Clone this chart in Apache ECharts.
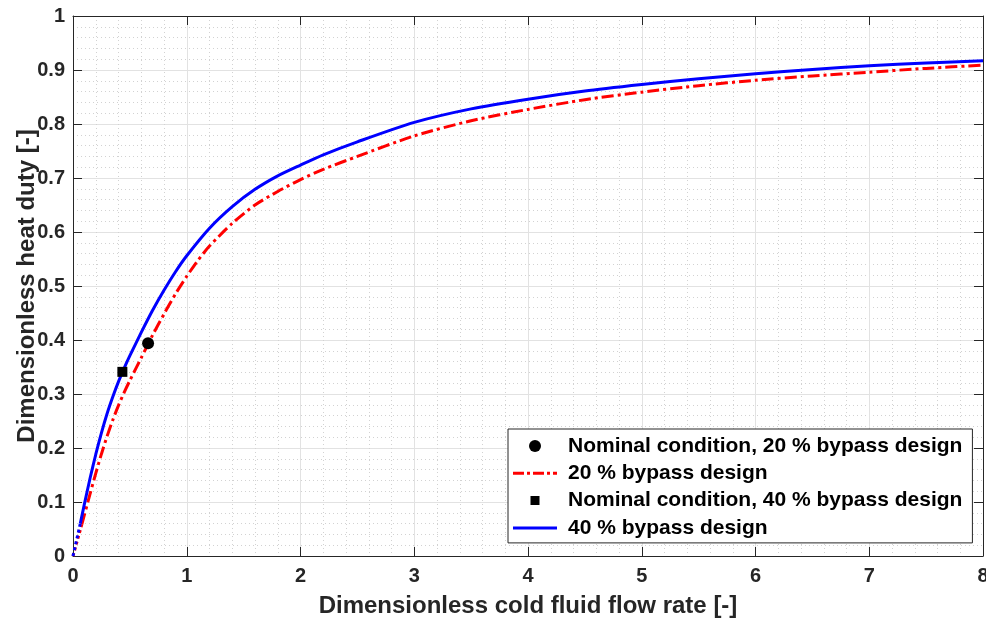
<!DOCTYPE html>
<html>
<head>
<meta charset="utf-8">
<script src="https://cdn.jsdelivr.net/npm/echarts@6/dist/echarts.min.js"></script>
<style>
  html, body { margin: 0; padding: 0; background: #ffffff; }
  #chart { width: 986px; height: 618px; }
</style>
</head>
<body>
<div id="chart"></div>
<script>
// Dimensionless cold fluid flow rate (x) and dimensionless heat duty (y)
// for the 40 % bypass design; the first segment (from the origin) is dotted.
const flow40 = [0, 0.064, 0.1, 0.15, 0.2, 0.25, 0.3, 0.35, 0.4, 0.45, 0.5, 0.6, 0.7, 0.8, 0.9, 1.0,
  1.2, 1.4, 1.6, 1.8, 2.0, 2.2, 2.5, 3.0, 3.5, 4.0, 4.5, 5.0, 5.5, 6.0, 6.5, 7.0, 7.5, 8.0];
const duty40 = [0, 0.060, 0.096, 0.144, 0.188, 0.228, 0.264, 0.295, 0.323, 0.348, 0.371, 0.414, 0.455, 0.492, 0.526, 0.556,
  0.607, 0.647, 0.679, 0.704, 0.724, 0.743, 0.767, 0.803, 0.828, 0.846, 0.861, 0.873, 0.884, 0.893, 0.901, 0.908, 0.913, 0.917];

// Same quantities for the 20 % bypass design.
const flow20 = [0, 0.077, 0.1, 0.15, 0.2, 0.25, 0.3, 0.35, 0.4, 0.45, 0.5, 0.6, 0.7, 0.8, 0.9, 1.0,
  1.1, 1.2, 1.4, 1.6, 1.8, 2.0, 2.2, 2.5, 3.0, 3.5, 4.0, 4.5, 5.0, 5.5, 6.0, 6.5, 7.0, 7.5, 8.0];
const duty20 = [0, 0.058, 0.076, 0.115, 0.153, 0.189, 0.222, 0.252, 0.279, 0.303, 0.325, 0.367, 0.409, 0.448, 0.485, 0.518,
  0.548, 0.574, 0.616, 0.650, 0.675, 0.697, 0.716, 0.740, 0.778, 0.806, 0.827, 0.845, 0.859, 0.871, 0.881, 0.889, 0.896, 0.903, 0.909];

// Nominal operating points [flow, duty]
const nominal20 = [0.66, 0.394];
const nominal40 = [0.434, 0.341];

// Axis tick labels
const xTickLabels = ['0', '1', '2', '3', '4', '5', '6', '7', '8'];
const yTickLabels = ['0', '0.1', '0.2', '0.3', '0.4', '0.5', '0.6', '0.7', '0.8', '0.9', '1'];

const seriesNames = [
  'Nominal condition, 20 % bypass design',
  '20 % bypass design',
  'Nominal condition, 40 % bypass design',
  '40 % bypass design'
];

const pairs = (xs, ys, from, to) => xs.slice(from, to).map((x, i) => [x, ys[from + i]]);

const FONT = 'Liberation Sans, Arial, Helvetica, sans-serif';
const INK = '#262626';

// Legend glyphs, drawn in a 50 x 13 box (the trailing moves only set the box extent).
const ICON_BOX = ' M0,0 M50,13';
const legendIcons = {
  circle: 'path://M16,6.5a6,6 0 1,0 12,0a6,6 0 1,0 -12,0z' + ICON_BOX,
  square: 'path://M17.5,2h9v9h-9z' + ICON_BOX,
  dashDot: 'path://M0,5h11v3h-11z M14,5h3v3h-3z M20,5h11v3h-11z M34,5h3v3h-3z M40,5h4v3h-4z' + ICON_BOX,
  solid: 'path://M0,5h44v3h-44z' + ICON_BOX
};

const baseAxis = {
  type: 'value',
  axisLine: { show: true, onZero: false, lineStyle: { color: INK, width: 1 } },
  axisTick: { show: true, inside: true, length: 9, lineStyle: { color: INK, width: 1 } },
  minorTick: { show: false, splitNumber: 5 }
};

const chart = echarts.init(document.getElementById('chart'), null, { renderer: 'canvas' });

chart.setOption({
  animation: false,
  backgroundColor: '#ffffff',
  grid: { left: 73, right: 3, top: 16, bottom: 62, containLabel: false, outerBoundsMode: 'none' },
  xAxis: [
    Object.assign({}, baseAxis, {
      min: 0, max: 8, interval: 1, position: 'bottom',
      axisLabel: {
        color: INK, fontSize: 20, fontWeight: 'bold', fontFamily: FONT, margin: 10,
        formatter: v => xTickLabels[Math.round(v)]
      },
      splitLine: { show: true, lineStyle: { color: '#e2e2e2', width: 1 } },
      minorSplitLine: { show: true, lineStyle: { color: '#d2d2d2', width: 1, type: [1, 3] } },
      name: 'Dimensionless cold fluid flow rate [-]',
      nameLocation: 'middle', nameGap: 38, nameMoveOverlap: false,
      nameTextStyle: { color: INK, fontSize: 24, fontWeight: 'bold', fontFamily: FONT }
    }),
    Object.assign({}, baseAxis, {
      min: 0, max: 8, interval: 1, position: 'top',
      axisLabel: { show: false }, splitLine: { show: false }
    })
  ],
  yAxis: [
    Object.assign({}, baseAxis, {
      min: 0, max: 1, interval: 0.1, position: 'left',
      axisLabel: {
        color: INK, fontSize: 20, fontWeight: 'bold', fontFamily: FONT, margin: 8,
        formatter: v => yTickLabels[Math.round(v * 10)]
      },
      splitLine: { show: true, lineStyle: { color: '#e2e2e2', width: 1 } },
      minorSplitLine: { show: true, lineStyle: { color: '#d2d2d2', width: 1, type: [1, 3] } },
      name: 'Dimensionless heat duty [-]',
      nameLocation: 'middle', nameGap: 34, nameMoveOverlap: false,
      nameTextStyle: { color: INK, fontSize: 24, fontWeight: 'bold', fontFamily: FONT }
    }),
    Object.assign({}, baseAxis, {
      min: 0, max: 1, interval: 0.1, position: 'right',
      axisLabel: { show: false }, splitLine: { show: false }
    })
  ],
  legend: {
    orient: 'vertical',
    left: 508, top: 429,
    padding: [5, 10, 3, 5],
    itemWidth: 50, itemHeight: 13, itemGap: 3.3,
    symbolKeepAspect: true,
    backgroundColor: '#ffffff',
    borderColor: INK, borderWidth: 1,
    textStyle: { color: '#000000', fontSize: 21, fontWeight: 'bold', fontFamily: FONT, lineHeight: 24 },
    data: [
      { name: seriesNames[0], icon: legendIcons.circle, itemStyle: { color: '#000000' } },
      { name: seriesNames[1], icon: legendIcons.dashDot, itemStyle: { color: '#ff0000' } },
      { name: seriesNames[2], icon: legendIcons.square, itemStyle: { color: '#000000' } },
      { name: seriesNames[3], icon: legendIcons.solid, itemStyle: { color: '#0000ff' } }
    ]
  },
  series: [
    {
      name: seriesNames[1], type: 'line', data: pairs(flow20, duty20, 1),
      showSymbol: false, symbol: 'none', smooth: 0.25,
      lineStyle: { color: '#ff0000', width: 3, type: [12, 4, 3, 4] },
      itemStyle: { color: '#ff0000' }, z: 3
    },
    {
      name: 'lead20', type: 'line', data: pairs(flow20, duty20, 0, 2),
      showSymbol: false, symbol: 'none',
      lineStyle: { color: '#ff0000', width: 3, type: [3, 3] }, z: 3
    },
    {
      name: seriesNames[3], type: 'line', data: pairs(flow40, duty40, 1),
      showSymbol: false, symbol: 'none', smooth: 0.25,
      lineStyle: { color: '#0000ff', width: 3, type: 'solid' },
      itemStyle: { color: '#0000ff' }, z: 4
    },
    {
      name: 'lead40', type: 'line', data: pairs(flow40, duty40, 0, 2),
      showSymbol: false, symbol: 'none',
      lineStyle: { color: '#0000ff', width: 3, type: [3, 3] }, z: 4
    },
    {
      name: seriesNames[0], type: 'scatter', data: [nominal20],
      symbol: 'circle', symbolSize: 12,
      itemStyle: { color: '#000000', opacity: 1 }, z: 6
    },
    {
      name: seriesNames[2], type: 'scatter', data: [nominal40],
      symbol: 'rect', symbolSize: 10,
      itemStyle: { color: '#000000', opacity: 1 }, z: 6
    }
  ]
});
</script>
</body>
</html>
